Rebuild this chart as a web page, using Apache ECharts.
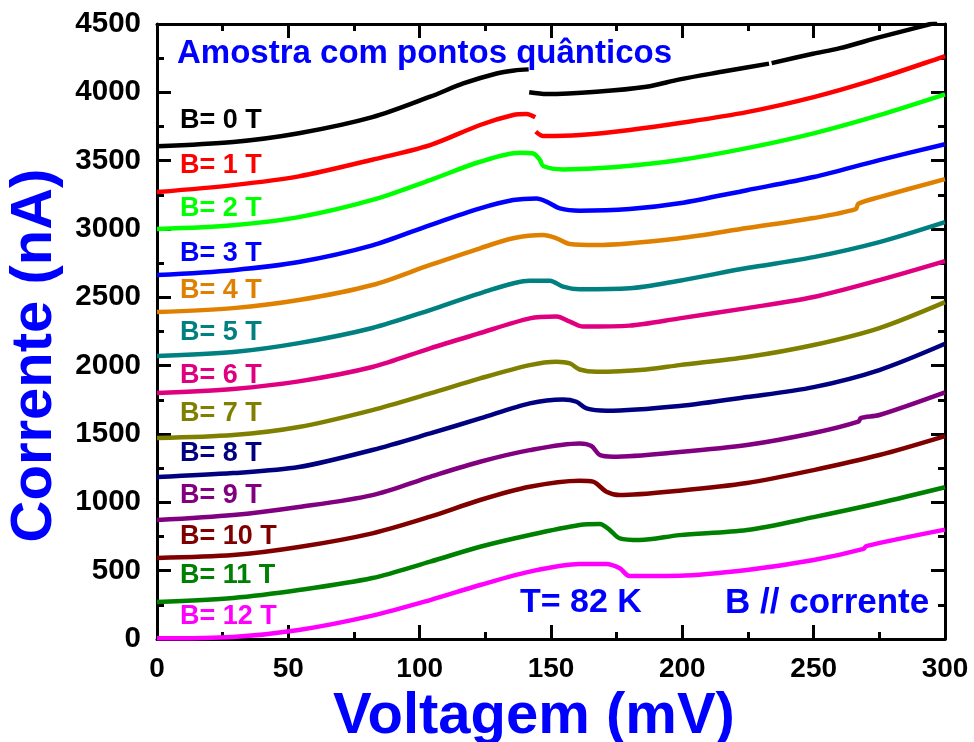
<!DOCTYPE html>
<html><head><meta charset="utf-8">
<script src="https://cdn.jsdelivr.net/npm/echarts@6/dist/echarts.min.js"></script>
<style>html,body{margin:0;padding:0;background:#fff}#c{width:974px;height:742px}</style>
</head><body><div id="c"></div>
<script>
// Field labels and colours
const fieldLabels = ['B= 0 T','B= 1 T','B= 2 T','B= 3 T','B= 4 T','B= 5 T','B= 6 T','B= 7 T','B= 8 T','B= 9 T','B= 10 T','B= 11 T','B= 12 T'];
const colors = ['#000000','#ff0000','#00ff00','#0000ff','#e08000','#008080','#e0007f','#808000','#000080','#800080','#800000','#008000','#ff00ff'];
const xTicks = [0,50,100,150,200,250,300];
const yTicks = [0,500,1000,1500,2000,2500,3000,3500,4000,4500];

// I–V curves: [voltage mV, current nA]; '-' marks a break in the trace
const b0 = [[0,3605],[29,3636],[54,3700],[82,3818],[104,3968],[116.6,4065],[129.3,4138],[136,4160],[141.5,4168],[141.6,'-'],[141.7,4000],[148.3,3987],[167.3,4004],[186.3,4041],[199,4095],[215,4150],[233,4210],[233.5,'-'],[234,4214],[249.7,4282],[260,4323],[275.2,4404],[290,4477],[297,4513]];
const b1 = [[0,3270],[29,3321],[54,3385],[82,3507],[104,3614],[123,3761],[135.6,3834],[140.7,3841],[144,3817],[144.1,'-'],[144.2,3712],[147,3680],[161,3687],[180,3724],[199,3775],[224.6,3855],[250,3965],[272.6,4089],[299,4258],[300,4266]];
const b2 = [[0,3000],[29,3028],[54,3087],[82,3213],[104,3358],[123,3492],[138.2,3558],[143.2,3553],[145.8,3505],[147,3461],[154.6,3436],[173.6,3451],[199,3505],[224.6,3592],[250,3700],[275,3833],[300,3985]];
const b3 = [[0,2663],[29,2699],[54,2758],[82,2880],[104,3029],[123,3151],[135.6,3212],[144.5,3224],[148.3,3200],[153.4,3151],[160.9,3134],[179.9,3146],[198.9,3188],[224.6,3284],[250,3380],[275,3504],[300,3620]];
const b4 = [[0,2392],[29,2421],[54,2480],[82,2590],[104,2737],[123,2859],[135.6,2932],[147,2956],[152.1,2932],[157.2,2890],[167.3,2883],[198.9,2932],[224.6,3007],[250,3080],[266,3145],[267,3185],[275,3233],[300,3365]];
const b5 = [[0,2070],[29,2100],[54,2165],[82,2276],[104,2407],[123,2529],[141.9,2622],[149.6,2622],[154.6,2578],[160.9,2559],[179.9,2566],[198.9,2622],[224.6,2714],[250,2794],[275,2904],[300,3050]];
const b6 = [[0,1800],[29,1830],[54,1885],[82,1990],[104,2127],[122,2232],[141.9,2346],[152.1,2359],[157.2,2322],[162.2,2286],[179.9,2293],[198.9,2346],[224.6,2421],[250,2502],[275,2626],[300,2765]];
const b7 = [[0,1470],[29,1492],[54,1551],[82,1675],[104,1797],[123,1907],[141.9,2004],[152.1,2029],[157.2,2016],[160.9,1972],[167.3,1955],[186.3,1972],[198.9,2004],[224.6,2063],[250,2151],[275,2275],[300,2465]];
const b8 = [[0,1185],[29,1214],[54,1258],[82,1383],[104,1504],[123,1614],[141.9,1724],[154.6,1753],[159.7,1736],[163.5,1687],[171.1,1670],[198.9,1705],[224.6,1770],[250,1843],[275,1968],[300,2160]];
const b9 = [[0,870],[29,907],[54,966],[82,1053],[104,1187],[123,1297],[141.9,1382],[160.9,1431],[165.4,1412],[168.6,1346],[173.6,1334],[198.9,1368],[224.6,1419],[250,1507],[267,1590],[268,1617],[275,1639],[300,1805]];
const b10 = [[0,593],[29,614],[54,673],[82,773],[104,895],[123,1017],[141.9,1114],[160.9,1158],[166,1151],[171.1,1078],[176.2,1053],[198.9,1085],[224.6,1141],[250,1236],[275,1346],[300,1485]];
const b11 = [[0,271],[29,300],[54,358],[82,446],[104,566],[123,675],[141.9,761],[160.9,834],[168.6,841],[172.4,797],[176.2,736],[183.8,724],[198.9,760],[224.6,797],[250,892],[275,995],[300,1110]];
const b12 = [[0,5],[29,15],[54,66],[82,171],[104,285],[123,395],[141.9,493],[160.9,549],[171.1,549],[176.2,517],[179.9,461],[198.9,463],[224.6,505],[250,578],[269,660],[270,680],[300,800]];
const curves = [b0,b1,b2,b3,b4,b5,b6,b7,b8,b9,b10,b11,b12];

// label vertical centres (px) for each field
const labelY = [121,166,209,254,291,333,376,414,454,496,537,576,617];

const FONT = '"Liberation Sans", Arial, sans-serif';
const chart = echarts.init(document.getElementById('c'));

function axisStyle(){
  return {
    axisLine:{show:true,onZero:false,lineStyle:{color:'#000',width:3}},
    axisTick:{show:true,inside:true,length:14,lineStyle:{color:'#000',width:3}},
    minorTick:{show:true,splitNumber:2,length:7,lineStyle:{color:'#000',width:3}},
    splitLine:{show:false}
  };
}
const xLabelStyle = {show:true,margin:16,color:'#000',fontSize:28,fontWeight:'bold',fontFamily:FONT,formatter:v=>String(v)};
const yLabelStyle = {show:true,margin:16,color:'#000',fontSize:29.5,fontWeight:'bold',fontFamily:FONT,formatter:v=>String(v)};

function textBox(text,left,cy,size,color){
  return {text:text,left:left,top:cy-size/2,padding:0,itemGap:0,
    textStyle:{color:color,fontSize:size,fontWeight:'bold',fontFamily:FONT,lineHeight:size}};
}
const titles = fieldLabels.map((t,i)=>textBox(t,180,labelY[i],27,colors[i]));
titles.push(textBox('Amostra com pontos quânticos',177,54,33,'#0000ff'));
titles.push(textBox('T= 82 K',520,603,34,'#0000ff'));
titles.push(textBox('B // corrente',725,603,35,'#0000ff'));

chart.setOption({
  animation:false,
  backgroundColor:'#fff',
  title:titles,
  grid:{left:157,right:29,top:24,bottom:103,containLabel:false,outerBoundsMode:'none'},
  xAxis:[
    Object.assign({type:'value',min:xTicks[0],max:xTicks[xTicks.length-1],interval:50,position:'bottom',axisLabel:xLabelStyle,
      name:'Voltagem (mV)',nameLocation:'middle',nameGap:41,
      nameTextStyle:{color:'#0000ff',fontSize:58,fontWeight:'bold',fontFamily:FONT,lineHeight:58,padding:[0,34,0,0]}},axisStyle()),
    Object.assign({type:'value',min:xTicks[0],max:xTicks[xTicks.length-1],interval:50,position:'top',axisLabel:{show:false}},axisStyle())
  ],
  yAxis:[
    Object.assign({type:'value',min:yTicks[0],max:yTicks[yTicks.length-1],interval:500,position:'left',axisLabel:yLabelStyle,
      name:'Corrente (nA)',nameLocation:'middle',nameGap:90,nameRotate:90,
      nameTextStyle:{color:'#0000ff',fontSize:58,fontWeight:'bold',fontFamily:FONT,lineHeight:58,padding:[0,48,0,0]}},axisStyle()),
    Object.assign({type:'value',min:yTicks[0],max:yTicks[yTicks.length-1],interval:500,position:'right',axisLabel:{show:false}},axisStyle())
  ],
  series: curves.map((d,i)=>({
    type:'line',data:d,showSymbol:false,smooth:0.3,
    lineStyle:{color:colors[i],width:4.5},itemStyle:{color:colors[i]}
  }))
});
</script></body></html>
